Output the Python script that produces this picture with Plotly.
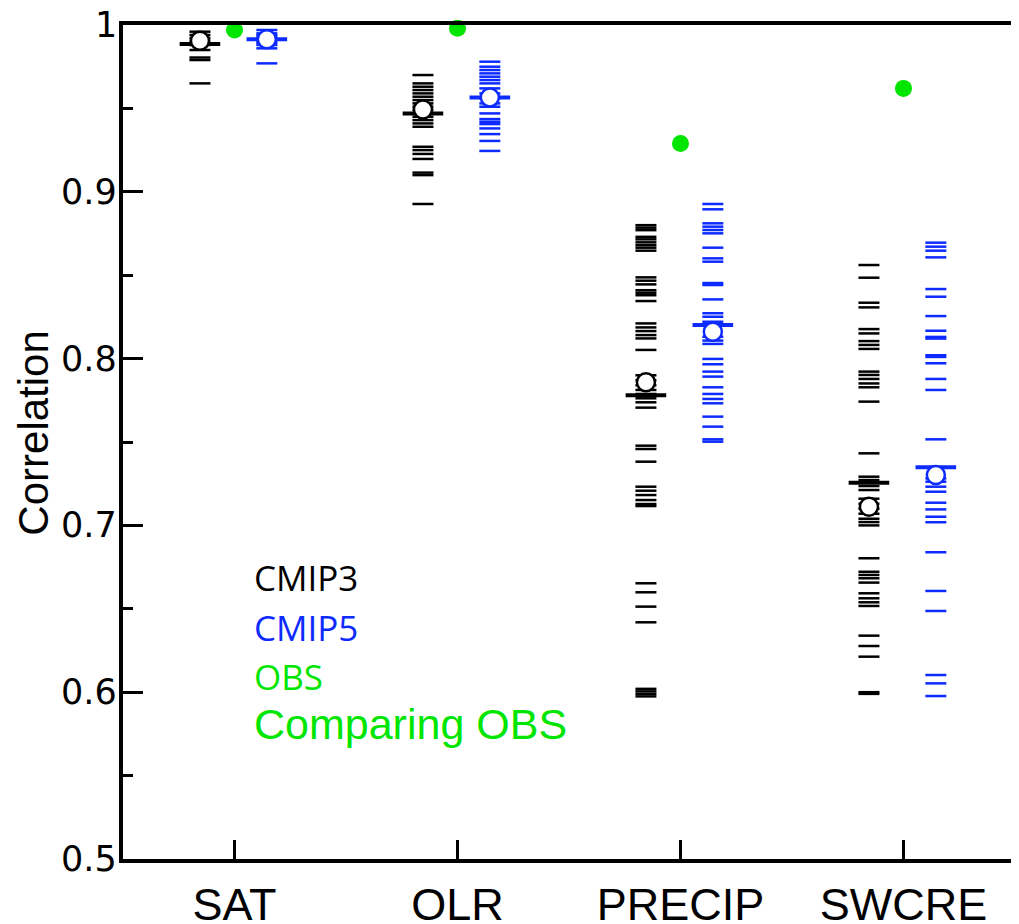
import plotly.graph_objects as go

# ---------------- data ----------------
categories = ["SAT", "OLR", "PRECIP", "SWCRE"]
y_tick_vals = [0.5, 0.6, 0.7, 0.8, 0.9, 1.0]
y_tick_text = ["0.5", "0.6", "0.7", "0.8", "0.9", "1"]

sat_cmip3 = [0.996, 0.994, 0.992, 0.990, 0.988, 0.985, 0.9805, 0.979, 0.965]
sat_cmip5 = [0.997, 0.995, 0.994, 0.993, 0.992, 0.991, 0.990, 0.989, 0.988, 0.986, 0.977]
olr_cmip3 = [0.970, 0.965, 0.963, 0.961, 0.959, 0.957, 0.955, 0.953, 0.951, 0.949,
             0.947, 0.945, 0.943, 0.941, 0.939, 0.927, 0.925, 0.9227, 0.9197,
             0.9115, 0.910, 0.8927]
olr_cmip5 = [0.978, 0.975, 0.973, 0.971, 0.969, 0.967, 0.965, 0.962, 0.959, 0.956,
             0.953, 0.951, 0.947, 0.9436, 0.942, 0.9406, 0.938, 0.9346, 0.9305, 0.9245]
precip_cmip3 = [0.880, 0.8785, 0.877, 0.873, 0.8715, 0.8697, 0.868, 0.8665, 0.8647,
                0.8487, 0.8467, 0.8445, 0.841, 0.8395, 0.838, 0.8345, 0.8211, 0.8187,
                0.8165, 0.8141, 0.8121, 0.8052, 0.790, 0.787, 0.784, 0.7812, 0.7788,
                0.7762, 0.7738, 0.7706, 0.7478, 0.7458, 0.7382, 0.7232, 0.7208, 0.7182,
                0.7152, 0.7128, 0.7116, 0.6653, 0.6599, 0.6513, 0.6419, 0.602, 0.6005,
                0.599, 0.5975]
precip_cmip5 = [0.8927, 0.8895, 0.8811, 0.8791, 0.8771, 0.8751, 0.8665, 0.8601, 0.8581,
                0.8453, 0.8441, 0.8355, 0.8272, 0.8251, 0.8221, 0.8131, 0.8108, 0.8088,
                0.7998, 0.7966, 0.7922, 0.7892, 0.7828, 0.7788, 0.7758, 0.7732, 0.7652,
                0.7592, 0.7516, 0.7502]
swcre_cmip3 = [0.8561, 0.8485, 0.8335, 0.8307, 0.8177, 0.8151, 0.8105, 0.8082, 0.8058,
               0.7922, 0.7902, 0.7878, 0.7851, 0.7828, 0.7742, 0.7432, 0.7292, 0.7272,
               0.7236, 0.7212, 0.716, 0.713, 0.710, 0.707, 0.704, 0.702, 0.700, 0.6803,
               0.6722, 0.6703, 0.6683, 0.6657, 0.6593, 0.6563, 0.6539, 0.6517, 0.6339,
               0.6277, 0.6213, 0.600, 0.599]
swcre_cmip5 = [0.8695, 0.8671, 0.8647, 0.8607, 0.8417, 0.8371, 0.8255, 0.8167, 0.813,
               0.812, 0.802, 0.801, 0.7972, 0.7878, 0.7812, 0.7516, 0.7282, 0.7262,
               0.7232, 0.7202, 0.7136, 0.7096, 0.7052, 0.7019, 0.6839, 0.6607, 0.6487,
               0.6103, 0.6053, 0.5977]

cmip3_models = [sat_cmip3, olr_cmip3, precip_cmip3, swcre_cmip3]
cmip5_models = [sat_cmip5, olr_cmip5, precip_cmip5, swcre_cmip5]

cmip3_mean = [0.9886, 0.947, 0.778, 0.7256]      # long thick dash
cmip5_mean = [0.9914, 0.9566, 0.8201, 0.7348]
cmip3_mmm = [0.9906, 0.9494, 0.7858, 0.7112]     # open circle
cmip5_mmm = [0.9914, 0.9566, 0.8161, 0.7302]
obs = [0.997, 0.998, 0.929, 0.962]               # green dot

legend_labels = ["CMIP3", "CMIP5", "OBS", "Comparing OBS"]
y_title = "Correlation"

# ---------------- styling ----------------
BLACK = "#000000"
BLUE = "#0d2bff"
GREEN = "#00e600"
OFF3 = -0.155
OFF5 = 0.145

fig = go.Figure()


def add_group(models, means, mmm, off, color):
    xs, ys = [], []
    for i, vals in enumerate(models):
        xs += [i + off] * len(vals)
        ys += vals
    fig.add_trace(go.Scatter(
        x=xs, y=ys, mode="markers", hoverinfo="y", showlegend=False,
        marker=dict(symbol="line-ew", size=15, line=dict(color=color, width=2.5)),
        cliponaxis=False))
    fig.add_trace(go.Scatter(
        x=[i + off for i in range(len(means))], y=means, mode="markers",
        showlegend=False,
        marker=dict(symbol="line-ew", size=29, line=dict(color=color, width=4)),
        cliponaxis=False))
    fig.add_trace(go.Scatter(
        x=[i + off for i in range(len(mmm))], y=mmm, mode="markers",
        showlegend=False,
        marker=dict(symbol="circle", size=18, color="white",
                    line=dict(color=color, width=2.5)),
        cliponaxis=False))


add_group(cmip3_models, cmip3_mean, cmip3_mmm, OFF3, BLACK)
add_group(cmip5_models, cmip5_mean, cmip5_mmm, OFF5, BLUE)

fig.add_trace(go.Scatter(
    x=list(range(len(obs))), y=obs, mode="markers", showlegend=False,
    marker=dict(symbol="circle", size=17, color=GREEN), cliponaxis=False))

# legend as text
leg_colors = [BLACK, BLUE, GREEN, GREEN]
leg_y = [0.338, 0.278, 0.219, 0.162]
leg_font = ["Open Sans", "Open Sans", "Open Sans", "Liberation Sans"]
leg_size = [35, 35, 35, 43]
for lab, c, yy, f, s in zip(legend_labels, leg_colors, leg_y, leg_font, leg_size):
    fig.add_annotation(text=lab, xref="paper", yref="paper", x=0.145, y=yy,
                       xanchor="left", yanchor="middle", showarrow=False,
                       font=dict(family=f, size=s, color=c))

# y-axis title as rotated text
fig.add_annotation(text=y_title, xref="paper", yref="paper", x=-0.1, y=0.511,
                   xanchor="center", yanchor="middle", textangle=-90, showarrow=False,
                   font=dict(family="Liberation Sans", size=42, color="black"))

# y tick labels as text placed on the y scale (the top one would otherwise be dropped)
for v, t in zip(y_tick_vals, y_tick_text):
    fig.add_annotation(text=t, xref="paper", yref="y", x=-0.005, y=v,
                       xanchor="right", yanchor="middle", showarrow=False,
                       font=dict(family="DejaVu Sans", size=35, color="black"))

fig.update_xaxes(
    range=[-0.5, 3.5], tickvals=list(range(len(categories))), ticktext=categories,
    ticks="inside", ticklen=19, tickwidth=3, tickcolor="black",
    showline=True, linewidth=4, linecolor="black", mirror=True,
    showgrid=False, zeroline=False, automargin=False,
    ticklabelstandoff=3,
    tickfont=dict(family="Liberation Sans", size=45, color="black"),
)
fig.update_yaxes(
    range=[0.5, 1.0], tickvals=y_tick_vals, showticklabels=False,
    ticks="inside", ticklen=20, tickwidth=3, tickcolor="black",
    minor=dict(ticks="inside", ticklen=10, tickwidth=3, dtick=0.05, tickcolor="black"),
    showline=True, linewidth=4, linecolor="black", mirror=True,
    showgrid=False, zeroline=False, automargin=False,
)

# the page body adds an 8 px offset, so the figure is sized to end at the window edge
fig.update_layout(
    width=1011, height=916,
    margin=dict(l=115, r=4, t=17, b=65),
    plot_bgcolor="white", paper_bgcolor="white",
)

fig.write_html("out.html")
